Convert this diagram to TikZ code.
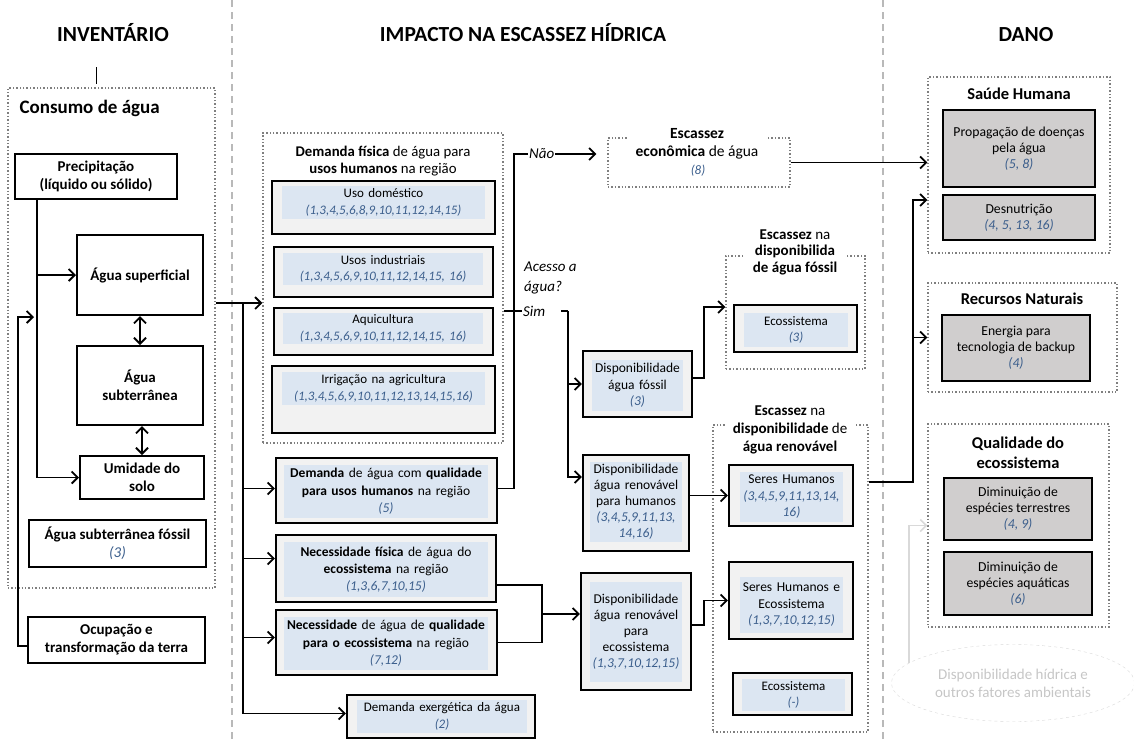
\documentclass[tikz,border=0pt]{standalone}
\usepackage{fontspec}
\setmainfont{Carlito}
\usetikzlibrary{arrows.meta}
\usetikzlibrary{shapes.geometric}

\definecolor{bandblue}{HTML}{DCE6F2}
\definecolor{boxgray}{HTML}{F2F2F2}
\definecolor{dmggray}{HTML}{D0CECE}
\definecolor{numblue}{HTML}{3B5E8C}
\definecolor{dotgray}{HTML}{7F7F7F}
\newcommand\srcnums[1]{{\mdseries\itshape\color{numblue}#1}}

\begin{document}
\begin{tikzpicture}[x=1pt,y=-1pt,
  head/.style={anchor=base, font=\bfseries\fontsize{21.5}{25}\selectfont},
  sep/.style={draw=gray!55, line width=1.2pt, dash pattern=on 7pt off 5pt},
  grp/.style={draw=dotgray, dotted, line width=1.4pt},
  gtit/.style={align=center, font=\fontsize{14.8}{17}\selectfont, inner sep=1pt},
  ontop/.style={gtit, fill=white, inner xsep=8pt},
  dtit/.style={align=center, font=\bfseries\fontsize{16.5}{20}\selectfont},
  inv/.style={draw, line width=2pt, fill=white, align=center, font=\bfseries\fontsize{15}{18}\selectfont},
  impbox/.style={draw, line width=2.2pt, fill=boxgray},
  band/.style={fill=bandblue, align=center, inner xsep=0pt, inner ysep=2pt, font=\fontsize{13}{16.5}\selectfont},
  dmg/.style={draw, line width=2pt, fill=dmggray, align=center, font=\fontsize{13.7}{16}\selectfont},
  conn/.style={line width=1.8pt},
  arr/.style={conn, -{Straight Barb[length=6pt,width=12pt]}},
  dbl/.style={conn, {Straight Barb[length=6pt,width=12pt]}-{Straight Barb[length=6pt,width=12pt]}},
  arrg/.style={line width=1.5pt, draw=gray!30, -{Straight Barb[length=6pt,width=12pt]}},
  lbl/.style={font=\itshape\fontsize{15}{20}\selectfont, inner sep=1pt},
]
\useasboundingbox (0,0) rectangle (1134,740);

% columns
\draw[sep] (232,0) -- (232,740);
\draw[sep] (883,0) -- (883,740);
\node[head] (hinv) at (113,41) {INVENTÁRIO};
\node[head] (himp) at (523,41) {IMPACTO NA ESCASSEZ HÍDRICA};
\node[head] (hdan) at (1026,41) {DANO};

% inventario
\node[grp, minimum width=207pt, minimum height=500pt] (cons) at (111.5,338) {};
\node[anchor=west, font=\bfseries\fontsize{19}{22}\selectfont] (ctit) at (16,108) {Consumo de água};
\coordinate (tick) at (96,67);
\draw[line width=1pt] (tick) -- ([yshift=3pt]tick |- cons.north);

\node[inv, minimum width=162pt, minimum height=45pt] (prec) at (96,176.5) {Precipitação\\(líquido ou sólido)};
\node[inv, minimum width=126pt, minimum height=80pt] (sup) at (140,275) {Água superficial};
\node[inv, minimum width=126pt, minimum height=79pt] (sub) at (140,385.5) {Água\\subterrânea};
\node[inv, minimum width=124pt, minimum height=43pt] (umi) at (142,477.5) {Umidade do\\solo};
\node[inv, minimum width=177pt, minimum height=47pt] (fos) at (117.5,543.5) {Água subterrânea fóssil\\\srcnums{(3)}};
\node[inv, minimum width=177pt, minimum height=46pt] (ocu) at (116.5,640) {Ocupação e\\transformação da terra};

\coordinate (ocin) at (34,317);
\draw[arr] ([xshift=-59pt]prec.south) |- (umi.west);
\draw[arr] ([xshift=-59pt]prec.south) |- (sup.west);
\draw[arr] ([yshift=-6pt]ocu.west) -- ++(-9,0) |- (ocin);
\draw[dbl] (sup.south) -- (sub.north);
\draw[dbl] (umi.north) -- (umi.north |- sub.south);

% demanda fisica
\node[grp, minimum width=240pt, minimum height=310pt] (dfis) at (383,288) {};
\node[gtit] (dfist) at (383,161.5) {\textbf{Demanda física} de água para\\\textbf{usos humanos} na região};

\node[impbox, minimum width=223pt, minimum height=53pt] (dom) at (383.5,207.5) {};
\node[band, text width=203pt, minimum height=33pt] (domt) at (383.5,202.5) {Uso doméstico\\\srcnums{(1,3,4,5,6,8,9,10,11,12,14,15)}};
\node[impbox, minimum width=219pt, minimum height=50pt] (ind) at (383.5,272) {};
\node[band, text width=200pt, minimum height=32pt] (indt) at (383,269) {Usos industriais\\\srcnums{(1,3,4,5,6,9,10,11,12,14,15, 16)}};
\node[impbox, minimum width=219pt, minimum height=47pt] (aqu) at (383.5,331.5) {};
\node[band, text width=200pt, minimum height=29pt] (aqut) at (383,328.5) {Aquicultura\\\srcnums{(1,3,4,5,6,9,10,11,12,14,15, 16)}};
\node[impbox, minimum width=223pt, minimum height=67pt] (irr) at (383.5,399.5) {};
\node[band, text width=203pt, minimum height=33pt] (irrt) at (383.5,388.5) {Irrigação na agricultura\\\srcnums{(1,3,4,5,6,9,10,11,12,13,14,15,16)}};

% demandas e necessidades
\node[impbox, minimum width=221pt, minimum height=65pt] (dq) at (386.5,490.5) {};
\node[band, text width=204pt, minimum height=53pt, font=\fontsize{13.5}{17.5}\selectfont] (dqt) at (386,491.5) {\textbf{Demanda} de água com \textbf{qualidade}\\\textbf{para usos humanos} na região\\\srcnums{(5)}};
\node[impbox, minimum width=220pt, minimum height=67pt] (nf) at (386,568.5) {};
\node[band, text width=204pt, minimum height=55pt, font=\fontsize{13.5}{17}\selectfont] (nft) at (386,569.5) {\textbf{Necessidade física} de água do\\\textbf{ecossistema} na região\\\srcnums{(1,3,6,7,10,15)}};
\node[impbox, minimum width=221pt, minimum height=65pt] (nq) at (386.5,642.5) {};
\node[band, text width=204pt, minimum height=53pt, font=\fontsize{13.5}{17.5}\selectfont] (nqt) at (386,643.5) {\textbf{Necessidade} de água de \textbf{qualidade}\\\textbf{para o ecossistema} na região\\\srcnums{(7,12)}};
\node[impbox, minimum width=188pt, minimum height=43pt] (dex) at (441,716.5) {};
\node[band, text width=170pt, minimum height=33pt] (dext) at (442,716.5) {Demanda exergética da água\\\srcnums{(2)}};

\coordinate (split) at (243,303);
\draw[arr] (cons.east |- split) -- (dfis.west |- split);
\foreach \t/\dy in {dq/2,nf/10,nq/5,dex/3}
  \draw[arr] (split) |- ([yshift=\dy pt]\t.west);

% acesso a agua
\coordinate (acc) at (514,154);
\node[lbl, anchor=west] (nao) at (528,154) {Não};
\node[lbl, anchor=west, align=left] (ace) at (523,278) {Acesso a\\água?};
\node[lbl, anchor=west] (sim) at (522,311) {Sim};
\coordinate (simc) at (568,311);

\node[grp, minimum width=182pt, minimum height=49pt] (eco) at (699,162.5) {};
\node[ontop, font=\fontsize{15.5}{18}\selectfont] (ecot) at (697,144) {\textbf{Escassez}\\\textbf{econômica} de água};
\node[band, fill=none, text width=40pt] (econ) at (698,171) {\srcnums{(8)}};

\draw[conn] ([yshift=2pt]dq.east) -| (acc) -- (nao.west);
\draw[arr] (nao.east) -- ([xshift=-11pt]eco.west |- nao.east);
\draw[conn] (dfis.east |- sim.west) -- (sim.west);
\draw[conn] ([xshift=-7pt]simc) -- (simc);

% agua fossil
\node[impbox, minimum width=109pt, minimum height=66pt] (dfo) at (637.5,384) {};
\node[band, text width=91pt, minimum height=51pt, font=\fontsize{13.5}{16.5}\selectfont] (dfot) at (637.5,385.5) {Disponibilidade\\água fóssil\\\srcnums{(3)}};
\node[grp, minimum width=139pt, minimum height=113pt] (fosg) at (795.5,312.5) {};
\node[ontop, font=\fontsize{15}{16.5}\selectfont] (fosgt) at (795,252) {\textbf{Escassez} na\\\textbf{disponibilida}\\\textbf{de água fóssil}};
\node[impbox, minimum width=123pt, minimum height=47pt] (ecof) at (795.5,328.5) {};
\node[band, text width=104pt, minimum height=34pt] (ecoft) at (796,330) {Ecossistema\\\srcnums{(3)}};

\draw[arr] (simc) |- (dfo.west);
\draw[arr] ([yshift=6pt]dfo.east) -- ++(11,0) |- ([yshift=5.5pt]fosg.west);

% agua renovavel
\node[impbox, minimum width=106pt, minimum height=96pt] (dh) at (636,503) {};
\node[band, text width=92pt, minimum height=80pt, font=\fontsize{13.5}{16}\selectfont] (dht) at (636,502) {Disponibilidade\\água renovável\\para humanos\\\srcnums{(3,4,5,9,11,13,}\\\srcnums{14,16)}};
\node[impbox, minimum width=110pt, minimum height=117pt] (de) at (636,631.5) {};
\node[band, text width=92pt, minimum height=100pt, font=\fontsize{13.5}{16}\selectfont] (det) at (636,632) {Disponibilidade\\água renovável\\para\\ecossistema\\\srcnums{(1,3,7,10,12,15)}};

\node[grp, minimum width=155pt, minimum height=307pt] (reng) at (790.5,578.5) {};
\node[ontop, font=\fontsize{15}{18}\selectfont] (rengt) at (790,430) {\textbf{Escassez} na\\\textbf{disponibilidade} de\\\textbf{água renovável}};
\node[impbox, minimum width=124pt, minimum height=61pt] (sh1) at (791,495.5) {};
\node[band, text width=103pt, minimum height=50pt, font=\fontsize{13.5}{16.5}\selectfont] (sh1t) at (791.5,497) {Seres Humanos\\\srcnums{(3,4,5,9,11,13,14,}\\\srcnums{16)}};
\node[impbox, minimum width=124pt, minimum height=77pt] (she) at (791,600.5) {};
\node[band, text width=103pt, minimum height=56pt, font=\fontsize{13.5}{16.5}\selectfont] (shet) at (791.5,605) {Seres Humanos e\\Ecossistema\\\srcnums{(1,3,7,10,12,15)}};
\node[impbox, minimum width=119pt, minimum height=42pt] (ecor) at (792.5,694) {};
\node[band, text width=103pt, minimum height=30pt] (ecort) at (793.5,695) {Ecossistema\\\srcnums{(-)}};

\draw[arr] (simc) |- ([yshift=26pt]dh.west);
\draw[arr] (dh.east |- sh1.west) -- (sh1.west);
\coordinate (nm) at (542,614);
\draw[conn] ([yshift=-16.5pt]nf.east) -| (nm);
\draw[conn] (nq.east) -| (nm);
\draw[arr] (nm) -- (nm -| de.west);
\draw[arr] ([yshift=6.5pt]de.east) -- ++(12,0) |- (she.west);

% dano
\node[grp, minimum width=182pt, minimum height=176pt] (sh) at (1019,165) {};
\node[dtit] (sht) at (1019,94) {Saúde Humana};
\node[dmg, minimum width=152pt, minimum height=77pt] (prop) at (1019,148.5) {Propagação de doenças\\pela água\\\srcnums{(5, 8)}};
\node[dmg, minimum width=152pt, minimum height=45pt] (desn) at (1019,217.5) {Desnutrição\\\srcnums{(4, 5, 13, 16)}};

\node[grp, minimum width=189pt, minimum height=109pt] (rn) at (1022.5,337.5) {};
\node[dtit] (rnt) at (1022,299) {Recursos Naturais};
\node[dmg, minimum width=148pt, minimum height=66pt] (ener) at (1016,348) {Energia para\\tecnologia de backup\\\srcnums{(4)}};

\node[grp, minimum width=181pt, minimum height=203pt] (qe) at (1018.5,525.5) {};
\node[dtit] (qet) at (1018,453) {Qualidade do\\ecossistema};
\node[dmg, minimum width=148pt, minimum height=62pt] (dter) at (1018,509) {Diminuição de\\espécies terrestres\\\srcnums{(4, 9)}};
\node[dmg, minimum width=148pt, minimum height=63pt] (daq) at (1018,583.5) {Diminuição de\\espécies aquáticas\\\srcnums{(6)}};

\node[ellipse, draw=gray!30, dashed, minimum width=243pt, minimum height=77pt, text=gray!45, align=center, font=\fontsize{15}{18}\selectfont] (amb) at (1013,683) {Disponibilidade hídrica e\\outros fatores ambientais};

\coordinate (dj) at (913,482);
\draw[arr] (eco.east) -- (sh.west |- eco.east);
\draw[arr] (reng.east |- dj) -- (dj) |- ([yshift=-35pt]sh.west);
\draw[arr] (dj |- rn.west) -- (rn.west);
\draw[arrg] (amb.169) |- (qe.west);
\end{tikzpicture}
\end{document}
